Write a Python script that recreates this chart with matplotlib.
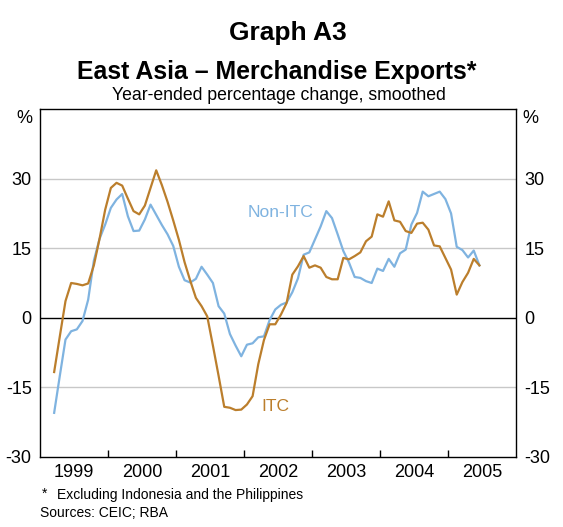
import matplotlib
matplotlib.use("Agg")
import matplotlib.pyplot as plt
import numpy as np

plt.rcParams['font.family'] = ['Liberation Sans', 'DejaVu Sans']

# Monthly data, March 1999 to June 2005 (year-ended % change, smoothed)
start_year = 1999
start_month = 3
itc = [
    -11.7, -4.0, 3.6, 7.5, 7.3, 7.0, 7.4, 11.3, 17.0, 23.3,
    28.0, 29.1, 28.5, 25.7, 23.0, 22.3, 24.2, 28.0, 31.8, 28.6, 25.0, 21.0,
    16.8, 12.0, 8.0, 4.3, 2.5, 0.3, -6.0, -12.5, -19.2, -19.4, -19.9, -19.8,
    -18.7, -16.9, -10.0, -4.8, -1.4, -1.4, 0.7, 3.2, 9.3, 11.1, 13.3, 10.8,
    11.3, 10.8, 8.8, 8.3, 8.3, 12.9, 12.6, 13.3, 14.1, 16.5, 17.5, 22.3,
    21.8, 25.1, 21.0, 20.7, 18.7, 18.3, 20.3, 20.5, 19.0, 15.6, 15.4, 12.9,
    10.4, 5.0, 7.7, 9.7, 12.7, 11.3,
]
non_itc = [
    -20.5, -12.5, -4.7, -2.9, -2.5, -0.7, 3.9, 12.3, 17.0, 20.1,
    23.7, 25.5, 26.7, 21.9, 18.7, 18.8, 21.2, 24.4, 22.2, 20.0, 18.0, 15.5,
    11.0, 8.1, 7.6, 8.4, 11.0, 9.3, 7.5, 2.5, 0.9, -3.5, -6.0, -8.3,
    -5.8, -5.5, -4.2, -4.0, -0.5, 1.8, 2.8, 3.3, 5.5, 8.5, 13.6, 14.1,
    16.9, 19.7, 23.0, 21.5, 18.0, 14.4, 11.9, 8.8, 8.6, 7.9, 7.5, 10.6,
    10.1, 12.7, 11.0, 13.9, 14.7, 20.1, 22.6, 27.2, 26.2, 26.7, 27.2, 25.6,
    22.5, 15.3, 14.6, 13.0, 14.5, 11.3,
]
years = [1999, 2000, 2001, 2002, 2003, 2004, 2005]
yticks = [-30, -15, 0, 15, 30]

n = len(itc)
x = start_year + (np.arange(n) + start_month - 1 + 0.5) / 12.0

blue = '#7fb3e0'
orange = '#bb7e2c'

fig = plt.figure(figsize=(5.63, 5.27), dpi=100)
ax = fig.add_axes([0.071, 0.133, 0.846, 0.660])

for yv in [-15, 15, 30]:
    ax.axhline(yv, color='#c8c8c8', lw=1.0, zorder=1)
ax.axhline(0, color='black', lw=1.0, zorder=2)

ax.plot(x, non_itc, color=blue, lw=1.6, zorder=3)
ax.plot(x, itc, color=orange, lw=1.6, zorder=4)

ax.set_xlim(1999, 2006)
ax.set_ylim(-30, 45)

ax.set_xticks(years[1:])
ax.set_xticklabels([])
ax.set_xticks([yv + 0.5 for yv in years], minor=True)
ax.set_xticklabels([str(yv) for yv in years], minor=True, fontsize=13)
ax.tick_params(axis='x', which='major', direction='in', length=5, width=1, color='black')
ax.tick_params(axis='x', which='minor', length=0, pad=5)

ax.set_yticks(yticks)
ax.set_yticklabels([str(v) for v in yticks], fontsize=13)
ax.tick_params(axis='y', length=0, pad=6, labelleft=True, labelright=True)

for sp in ax.spines.values():
    sp.set_color('black')
    sp.set_linewidth(1.0)

ax.text(-0.015, 0.972, '%', transform=ax.transAxes, ha='right', va='center', fontsize=13)
ax.text(1.012, 0.972, '%', transform=ax.transAxes, ha='left', va='center', fontsize=13)

ax.text(2002.53, 22.8, 'Non-ITC', color=blue, fontsize=12.6, ha='center', va='center')
ax.text(2002.46, -19.2, 'ITC', color=orange, fontsize=12.6, ha='center', va='center')

fig.text(288 / 563, 1 - 33 / 527, 'Graph A3', ha='center', va='center', fontsize=19, fontweight='bold')
fig.text(277 / 563, 1 - 72 / 527, 'East Asia \u2013 Merchandise Exports*', ha='center', va='center',
         fontsize=17.9, fontweight='bold')
fig.text(278.5 / 563, 1 - 95 / 527, 'Year-ended percentage change, smoothed', ha='center', va='center',
         fontsize=12.7)

fig.text(42 / 563, 1 - 494 / 527, '*', ha='left', va='center', fontsize=10)
fig.text(57 / 563, 1 - 495 / 527, 'Excluding Indonesia and the Philippines', ha='left', va='center',
         fontsize=10)
fig.text(40 / 563, 1 - 513 / 527, 'Sources: CEIC; RBA', ha='left', va='center', fontsize=10)

fig.savefig('out.png', dpi=100, facecolor='white')
